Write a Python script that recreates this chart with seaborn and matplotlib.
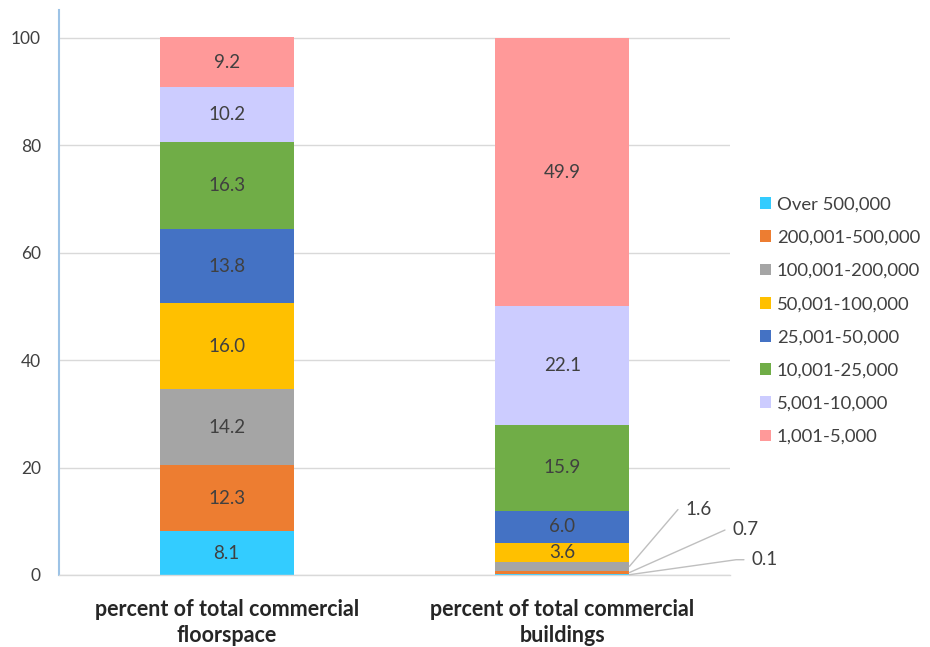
import matplotlib
matplotlib.use("Agg")
import matplotlib.pyplot as plt
import seaborn as sns
import numpy as np

sns.set_style("white")
plt.rcParams["font.family"] = ["Lato", "DejaVu Sans"]

categories = ["percent of total commercial\nfloorspace",
              "percent of total commercial\nbuildings"]
size_classes = ["Over 500,000", "200,001-500,000", "100,001-200,000",
                "50,001-100,000", "25,001-50,000", "10,001-25,000",
                "5,001-10,000", "1,001-5,000"]
floorspace = [8.1, 12.3, 14.2, 16.0, 13.8, 16.3, 10.2, 9.2]
buildings = [0.1, 0.7, 1.6, 3.6, 6.0, 15.9, 22.1, 49.9]
colors = ["#33CCFF", "#ED7D31", "#A5A5A5", "#FFC000",
          "#4472C4", "#70AD47", "#CCCCFF", "#FF9999"]
y_ticks = [0, 20, 40, 60, 80, 100]

text_col = "#404040"

fig = plt.figure(figsize=(9.3, 6.47), dpi=100)
ax = fig.add_axes([0.0634, 0.1113, 0.7216, 0.8732])

bottom = np.zeros(len(categories))
for name, f, b, c in zip(size_classes, floorspace, buildings, colors):
    vals = np.array([f, b])
    sns.barplot(x=categories, y=vals, bottom=bottom, color=c, width=0.4,
                saturation=1, ax=ax, label=name, edgecolor="none")
    bottom = bottom + vals

# value labels inside the larger segments
bars_by_layer = ax.containers
for layer, cont in enumerate(bars_by_layer):
    for i, rect in enumerate(cont):
        v = (floorspace, buildings)[i][layer]
        if v >= 3:
            ax.text(rect.get_x() + rect.get_width() / 2,
                    rect.get_y() + rect.get_height() / 2,
                    f"{v:.1f}", ha="center", va="center",
                    fontsize=13.5, color=text_col)

# callouts for the thin segments on the second column
callouts = {0: (122, 15, 8.0), 1: (103, 43, 24.0), 2: (56, 57, 49.5)}
for layer, (dx, dy, ang) in callouts.items():
    rect = bars_by_layer[layer][1]
    v = buildings[layer]
    ax.annotate(f"{v:.1f}",
                xy=(rect.get_x() + rect.get_width(),
                    rect.get_y() + rect.get_height() / 2),
                xytext=(dx, dy), textcoords="offset pixels",
                ha="left", va="center", fontsize=13.5, color=text_col,
                arrowprops=dict(arrowstyle="-", color="#BFBFBF", lw=1,
                                shrinkA=3, shrinkB=0, relpos=(0, 0.5),
                                connectionstyle=f"angle,angleA=0,angleB={ang},rad=0"))

ax.set_ylim(0, 105.2)
ax.set_xlim(-0.5, 1.5)
ax.set_yticks(y_ticks)
ax.tick_params(axis="y", labelsize=12.5, colors=text_col, length=0, pad=13)
ax.tick_params(axis="x", length=0, pad=17)
for lbl in ax.get_xticklabels():
    lbl.set_fontweight("bold")
    lbl.set_fontsize(15.5)
    lbl.set_color("#262626")
    lbl.set_linespacing(1.3)

ax.yaxis.grid(True, color="#D9D9D9", lw=1)
ax.set_axisbelow(True)
for s in ["top", "right"]:
    ax.spines[s].set_visible(False)
ax.spines["left"].set_color("#9DC3E6")
ax.spines["left"].set_linewidth(1.5)
ax.spines["bottom"].set_color("#D9D9D9")
ax.spines["bottom"].set_linewidth(1)

handles, labels = ax.get_legend_handles_labels()
leg = ax.legend(handles, labels, loc="center left", bbox_to_anchor=(1.02, 0.45),
                frameon=False, fontsize=13.3, handlelength=0.6, handleheight=0.6,
                handletextpad=0.3, labelspacing=0.93, labelcolor=text_col)

fig.savefig("out.png", dpi=100)
